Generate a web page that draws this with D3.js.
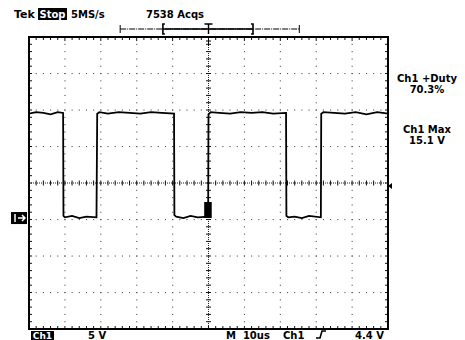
<!DOCTYPE html>
<html>
<head>
<meta charset="utf-8">
<script src="https://cdn.jsdelivr.net/npm/d3@7"></script>
<style>
  body { margin: 0; background: #fff; }
  text { font-family: "DejaVu Sans", sans-serif; font-weight: bold; fill: #000; }
</style>
</head>
<body>
<div class="chart"></div>
<script>
// scope trace: time (us) across the screen, volts
const trace = [
  [0, 14.3], [2, 14.5], [4, 14.4], [6, 14.2], [8, 14.5], [9.5, 14.4],
  [9.6, 0.3], [10, 0.1], [12, 0.3], [14, 0.0], [16, 0.2], [18.8, 0.1],
  [19.0, 14.3], [19.6, 14.5], [22, 14.3], [25, 14.5], [28, 14.4], [31, 14.3], [34, 14.5], [37, 14.4], [40.4, 14.3],
  [40.5, 0.4], [41, 0.2], [43, 0.0], [45, 0.3], [47, 0.1], [49.9, 0.2],
  [50.0, 14.2], [50.6, 14.5], [53, 14.4], [56, 14.3], [59, 14.5], [62, 14.4], [65, 14.5], [68, 14.3], [71.6, 14.4],
  [71.7, 0.3], [72.2, 0.1], [74, 0.2], [76, 0.0], [78, 0.3], [81.3, 0.1],
  [81.4, 14.3], [82, 14.5], [85, 14.4], [88, 14.3], [91, 14.5], [94, 14.2], [97, 14.5], [100, 14.3]
]
// trigger jitter blob near the trigger point
const jitterBox = {t0: 48.8, t1: 50.9, v0: 0, v1: 2.2}

const headerLabels = ['Tek', 'Stop', '5MS/s', '7538 Acqs']
const measLabels = [['Ch1 +Duty', '70.3%'], ['Ch1 Max', '15.1 V']]
const footerLabels = {ch: 'Ch1', volts: '5 V', time: 'M  10us', trig: 'Ch1', level: '4.4 V'}
const triggerLevel = 4.4
const groundLevel = 0

const W = 465, H = 340
const gLeft = 29, gRight = 388, gTop = 37, gBottom = 329

const x = d3.scaleLinear().domain([0, 100]).range([gLeft, gRight])
const y = d3.scaleLinear().domain([-15.2, 24.8]).range([gBottom, gTop])
const divX = d3.range(0, 101, 10)
const divY = d3.range(-15.2, 24.81, 5)

const svg = d3.select('.chart').append('svg')
  .attr('width', W).attr('height', H)

// graticule dots on every division line
const grid = svg.append('g')
divX.slice(1, -1).forEach(t => {
  if (t === 50) return
  d3.range(0, 40.01, 1).forEach(k => {
    grid.append('rect').attr('x', x(t) - 0.5).attr('y', y(-15.2 + k) - 0.5)
      .attr('width', 1.1).attr('height', 1.1).attr('fill', '#555')
  })
})
divY.slice(1, -1).forEach((v, i) => {
  if (i === 3) return
  d3.range(0, 100.01, 2).forEach(t => {
    grid.append('rect').attr('x', x(t) - 0.5).attr('y', y(v) - 0.5)
      .attr('width', 1.1).attr('height', 1.1).attr('fill', '#555')
  })
})

// centre lines with minor ticks
const cy = y(4.8), cx = x(50)
grid.append('line').attr('x1', gLeft).attr('x2', gRight).attr('y1', cy).attr('y2', cy)
  .attr('stroke', '#222').attr('stroke-width', 1).attr('stroke-dasharray', '1,1')
grid.append('line').attr('x1', cx).attr('x2', cx).attr('y1', gTop).attr('y2', gBottom)
  .attr('stroke', '#222').attr('stroke-width', 1).attr('stroke-dasharray', '1,1')
d3.range(0, 100.01, 2).forEach(t => {
  grid.append('line').attr('x1', x(t)).attr('x2', x(t)).attr('y1', cy - 2.5).attr('y2', cy + 2.5)
    .attr('stroke', '#111').attr('stroke-width', 1)
  grid.append('line').attr('x1', x(t)).attr('x2', x(t)).attr('y1', gTop).attr('y2', gTop + (t % 10 === 0 ? 4 : 3))
    .attr('stroke', '#111').attr('stroke-width', 1)
  grid.append('line').attr('x1', x(t)).attr('x2', x(t)).attr('y1', gBottom).attr('y2', gBottom - 3)
    .attr('stroke', '#111').attr('stroke-width', 1)
})
d3.range(-15.2, 24.81, 1).forEach(v => {
  grid.append('line').attr('x1', cx - 2.5).attr('x2', cx + 2.5).attr('y1', y(v)).attr('y2', y(v))
    .attr('stroke', '#111').attr('stroke-width', 1)
  grid.append('line').attr('x1', gLeft).attr('x2', gLeft + 3).attr('y1', y(v)).attr('y2', y(v))
    .attr('stroke', '#111').attr('stroke-width', 1)
  grid.append('line').attr('x1', gRight).attr('x2', gRight - 3).attr('y1', y(v)).attr('y2', y(v))
    .attr('stroke', '#111').attr('stroke-width', 1)
})

// frame
svg.append('rect').attr('x', gLeft).attr('y', gTop)
  .attr('width', gRight - gLeft).attr('height', gBottom - gTop)
  .attr('fill', 'none').attr('stroke', '#000').attr('stroke-width', 2)

// waveform
const line = d3.line().x(d => x(d[0])).y(d => y(d[1]))
svg.append('path').datum(trace).attr('d', line)
  .attr('fill', 'none').attr('stroke', '#000').attr('stroke-width', 1.8)
  .attr('stroke-linejoin', 'miter')
svg.append('rect')
  .attr('x', x(jitterBox.t0)).attr('y', y(jitterBox.v1))
  .attr('width', x(jitterBox.t1) - x(jitterBox.t0))
  .attr('height', y(jitterBox.v0) - y(jitterBox.v1))
  .attr('fill', '#000')

// trigger position bar at top
const barY = 29
const bar = svg.append('g').attr('stroke', '#000')
bar.append('line').attr('x1', x(25.4)).attr('x2', x(75.3)).attr('y1', barY).attr('y2', barY)
  .attr('stroke-width', 1).attr('stroke-dasharray', '6,1,1,1')
bar.append('line').attr('x1', x(37.3)).attr('x2', x(62.4)).attr('y1', barY).attr('y2', barY)
  .attr('stroke-width', 1.6)
;[25.4, 75.3].forEach(t => bar.append('line').attr('x1', x(t)).attr('x2', x(t))
  .attr('y1', barY - 4).attr('y2', barY + 4).attr('stroke-width', 1))
;[37.3, 62.4].forEach((t, i) => {
  bar.append('path').attr('fill', 'none').attr('stroke-width', 1.6)
    .attr('d', i === 0
      ? `M${x(t) + 2},${barY - 5}H${x(t)}V${barY + 5}H${x(t) + 2}`
      : `M${x(t) - 2},${barY - 5}H${x(t)}V${barY + 5}H${x(t) - 2}`)
})
bar.append('path').attr('fill', 'none').attr('stroke-width', 1.4)
  .attr('d', `M${cx - 4},${barY - 5}H${cx + 4}M${cx},${barY - 5}V${barY + 5}`)
bar.append('path').attr('fill', 'none').attr('stroke-width', 1)
  .attr('d', `M${cx - 2.5},${gTop + 4}H${cx + 2.5}M${cx},${gTop + 4}V${gTop + 9}`)

// trigger level marker on right edge
svg.append('path').attr('fill', '#000')
  .attr('d', `M${gRight},${y(triggerLevel)}l4,-3v6z`)

// ground marker
const gy = y(groundLevel)
svg.append('rect').attr('x', 11).attr('y', gy - 6).attr('width', 16).attr('height', 12).attr('fill', '#000')
svg.append('path').attr('stroke', '#fff').attr('stroke-width', 1.5).attr('fill', 'none')
  .attr('d', `M15,${gy - 4}V${gy + 4}M18,${gy}H25M22,${gy - 3}L25,${gy}L22,${gy + 3}`)

// header
svg.append('text').attr('x', 14).attr('y', 18).attr('font-size', 11).text(headerLabels[0])
svg.append('rect').attr('x', 38).attr('y', 8).attr('width', 29).attr('height', 12).attr('fill', '#000')
svg.append('text').attr('x', 52.5).attr('y', 18).attr('font-size', 10).attr('text-anchor', 'middle')
  .style('fill', '#fff').text(headerLabels[1])
svg.append('text').attr('x', 71).attr('y', 18).attr('font-size', 10).text(headerLabels[2])
svg.append('text').attr('x', 175).attr('y', 18).attr('font-size', 10).attr('text-anchor', 'middle').text(headerLabels[3])

// measurements
measLabels.forEach((m, i) => {
  const yy = 82 + i * 51
  svg.append('text').attr('x', 427).attr('y', yy).attr('font-size', 10).attr('text-anchor', 'middle').text(m[0])
  svg.append('text').attr('x', 427).attr('y', yy + 11).attr('font-size', 10).attr('text-anchor', 'middle').text(m[1])
})

// footer
svg.append('rect').attr('x', 31).attr('y', 331).attr('width', 23).attr('height', 9).attr('fill', '#000')
svg.append('text').attr('x', 42.5).attr('y', 339).attr('font-size', 9).attr('text-anchor', 'middle')
  .style('fill', '#fff').text(footerLabels.ch)
svg.append('text').attr('x', 88).attr('y', 339).attr('font-size', 10).text(footerLabels.volts)
svg.append('text').attr('x', 226).attr('y', 339).attr('font-size', 10).attr('xml:space', 'preserve').text(footerLabels.time)
svg.append('text').attr('x', 283).attr('y', 339).attr('font-size', 10).text(footerLabels.trig)
svg.append('path').attr('fill', 'none').attr('stroke', '#000').attr('stroke-width', 1.6)
  .attr('d', 'M316,338H320L322,331H326')
svg.append('text').attr('x', 384).attr('y', 339).attr('font-size', 10).attr('text-anchor', 'end').text(footerLabels.level)
</script>
</body>
</html>
